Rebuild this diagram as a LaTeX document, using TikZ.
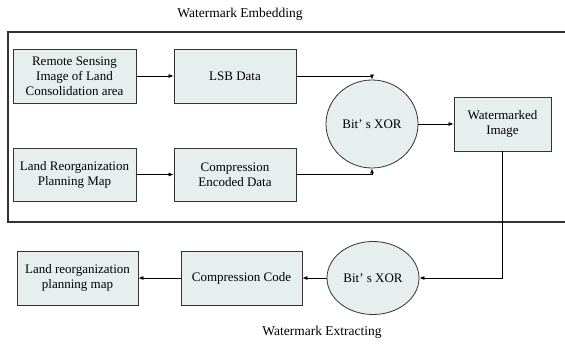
\documentclass[tikz,border=0pt]{standalone}
\usepackage{fontspec}
\setmainfont{Liberation Serif}
\usetikzlibrary{arrows.meta,shapes.geometric}
\definecolor{boxfill}{RGB}{230,238,238}
\begin{document}
\begin{tikzpicture}[x=1pt,y=-1pt,
  stepbox/.style={draw=black!80,line width=0.8pt,fill=boxfill,align=center,font=\fontsize{13}{15}\selectfont,inner sep=0pt},
  xorell/.style={draw=black!80,line width=0.8pt,fill=boxfill,ellipse,inner sep=0pt,font=\fontsize{13}{15}\selectfont},
  conn/.style={line width=0.7pt,-{Latex[length=5pt,width=4pt]}},
  title/.style={font=\fontsize{13.5}{15}\selectfont}]
\useasboundingbox (0,0) rectangle (565,347);
% frame
\draw[line width=1.1pt,black!80] (565,32) -- (8,32) -- (8,222) -- (565,222);
% nodes
\node[stepbox,minimum width=123pt,minimum height=54pt] (rs) at (74.5,76) {Remote Sensing\\Image of Land\\Consolidation area};
\node[stepbox,minimum width=122pt,minimum height=54pt] (lsb) at (235,76) {LSB Data};
\node[stepbox,minimum width=123pt,minimum height=53pt] (lr) at (74.5,174.5) {Land Reorganization\\Planning Map};
\node[stepbox,minimum width=122pt,minimum height=53pt] (ced) at (235,174.5) {Compression\\Encoded Data};
\node[xorell,minimum width=92pt,minimum height=88pt] (x1) at (372,124) {Bit’ s XOR};
\node[stepbox,minimum width=97pt,minimum height=54pt] (wi) at (502.5,124) {Watermarked\\Image};
\node[xorell,minimum width=92pt,minimum height=73pt] (x2) at (373,278) {Bit’ s XOR};
\node[stepbox,minimum width=121pt,minimum height=54pt] (cc) at (241.5,278) {Compression Code};
\node[stepbox,minimum width=121pt,minimum height=54pt] (lp) at (77.5,278) {Land reorganization\\planning map};
\node[title] (t1) at (240,14) {Watermark Embedding};
\node[title] (t2) at (322,332) {Watermark Extracting};
% connectors
\draw[conn] (rs) -- (lsb);
\draw[conn] (lr) -- (ced);
\draw[conn] (lsb.east) -| (x1.north);
\draw[conn] (ced.east) -| (x1.south);
\draw[conn] (x1) -- (wi);
\draw[conn] (wi.south) |- (x2.east);
\draw[conn] (x2) -- (cc);
\draw[conn] (cc) -- (lp);
\end{tikzpicture}
\end{document}
